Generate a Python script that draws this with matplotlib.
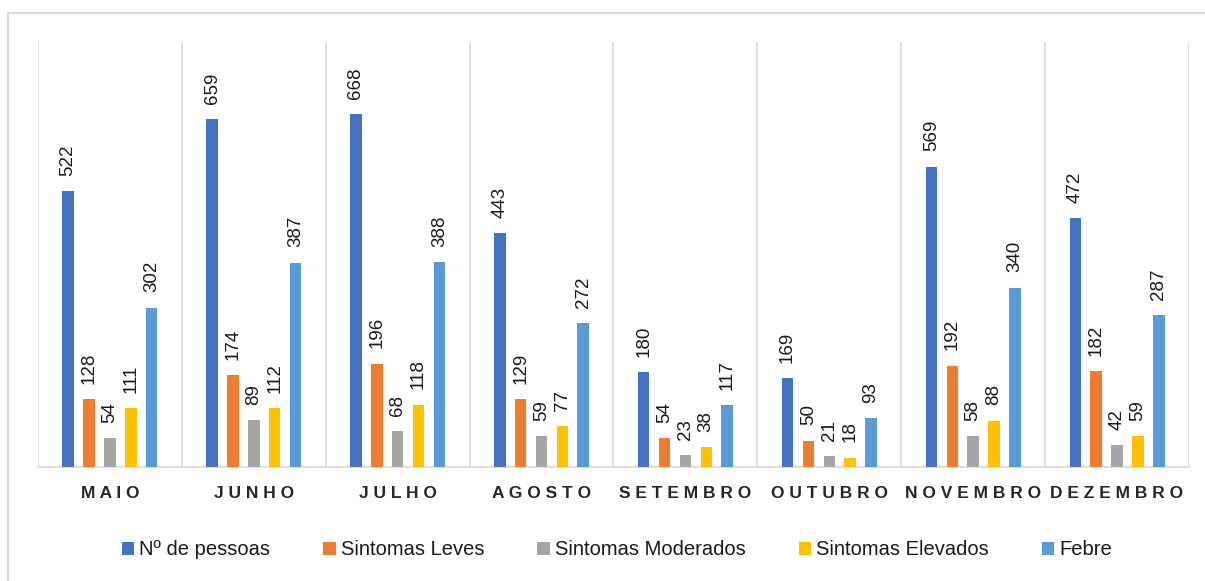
import matplotlib.pyplot as plt
import numpy as np
from matplotlib.lines import Line2D

plt.rcParams['font.family'] = ['Liberation Sans', 'DejaVu Sans']

# data
meses = ['MAIO', 'JUNHO', 'JULHO', 'AGOSTO', 'SETEMBRO', 'OUTUBRO', 'NOVEMBRO', 'DEZEMBRO']
series = ['Nº de pessoas', 'Sintomas Leves', 'Sintomas Moderados', 'Sintomas Elevados', 'Febre']
pessoas = [522, 659, 668, 443, 180, 169, 569, 472]
leves = [128, 174, 196, 129, 54, 50, 192, 182]
moderados = [54, 89, 68, 59, 23, 21, 58, 42]
elevados = [111, 112, 118, 77, 38, 18, 88, 59]
febre = [302, 387, 388, 272, 117, 93, 340, 287]
cores = ['#4472C4', '#ED7D31', '#A5A5A5', '#FFC000', '#5B9BD5']

valores = [pessoas, leves, moderados, elevados, febre]

fig = plt.figure(figsize=(12.05, 5.81), dpi=100)
ax = fig.add_axes([0.0315, 0.1962, 0.9552, 0.7315])

# chart frame: only top and left edges visible in the crop
fig.lines.append(Line2D([0.0066, 1.0], [0.978, 0.978], transform=fig.transFigure,
                        color='#D9D9D9', linewidth=1.5))
fig.lines.append(Line2D([0.0066, 0.0066], [0.0, 0.978], transform=fig.transFigure,
                        color='#D9D9D9', linewidth=1.5))

x = np.arange(len(meses))
slot = 0.145
largura = 0.08
for i, (nome, vals, cor) in enumerate(zip(series, valores, cores)):
    pos = x + (i - 2) * slot
    ax.bar(pos, vals, width=largura, color=cor, label=nome, zorder=3)
    for px, v in zip(pos, vals):
        ax.annotate(str(v), (px, v), xytext=(0, 11), textcoords='offset points',
                    rotation=90, ha='center', va='bottom', fontsize=13.5, color='#1a1a1a')

ax.set_xlim(-0.5, len(meses) - 0.5)
ax.set_ylim(0, 805)
ax.set_yticks([])
ax.set_xticks(x)
ax.set_xticklabels([' '.join(m) for m in meses], fontsize=12.5, fontweight='bold', color='#262626')
ax.tick_params(axis='x', length=0, pad=14)
ax.set_xticks(np.arange(len(meses) + 1) - 0.5, minor=True)
ax.tick_params(axis='x', which='minor', length=0)
ax.grid(axis='x', which='minor', color='#D9D9D9', linewidth=1.2, zorder=0)
for s in ['top', 'left', 'right']:
    ax.spines[s].set_visible(False)
ax.spines['bottom'].set_color('#D9D9D9')
ax.spines['bottom'].set_linewidth(1.2)

ax.legend(loc='upper center', bbox_to_anchor=(0.503, -0.13), ncol=5, frameon=False,
          fontsize=14.5, handlelength=0.6, handleheight=0.6, handletextpad=0.25,
          columnspacing=2.65, labelcolor='#1a1a1a')

plt.savefig('out.png', dpi=100)
